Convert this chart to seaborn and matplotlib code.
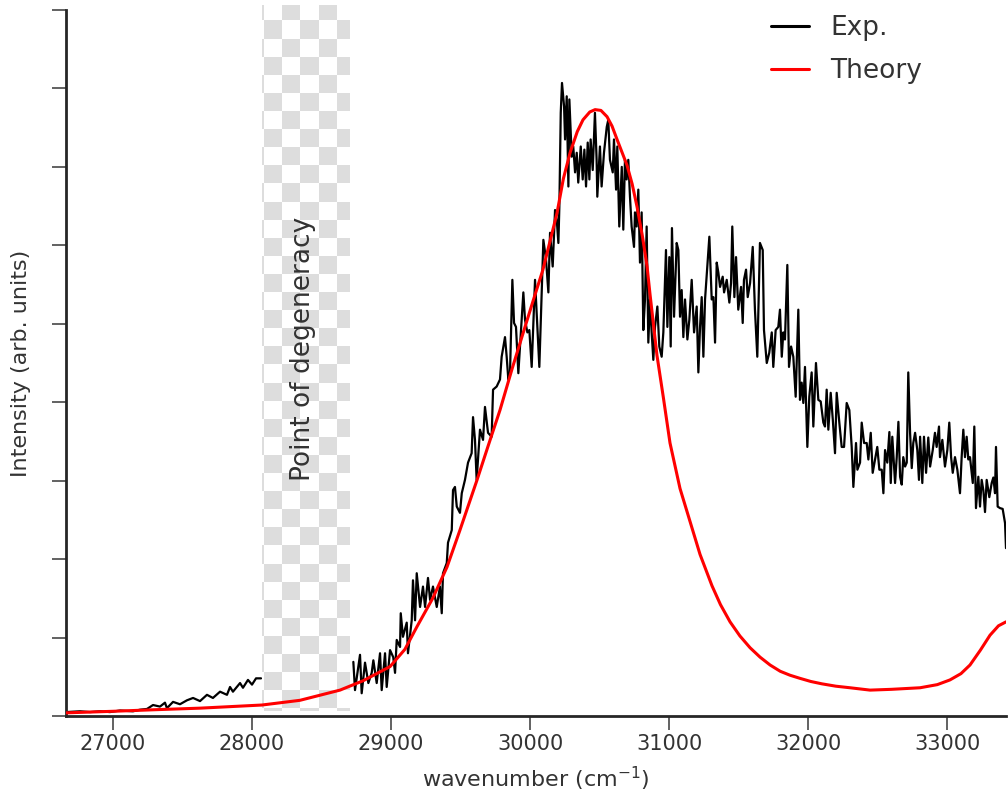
import numpy as np
import pandas as pd
import matplotlib
matplotlib.use("Agg")
import matplotlib.pyplot as plt
import seaborn as sns

# ---------------- data ----------------
exp_lo_wn = [26662, 26763, 26835, 26906, 26978, 27050, 27144, 27194, 27245, 27288,
             27338, 27374, 27388, 27432, 27482, 27532, 27576, 27626, 27676, 27719,
             27770, 27820, 27842, 27863, 27914, 27935, 27971, 28000, 28029, 28065]
exp_lo_int = [0.05, 0.06, 0.05, 0.06, 0.05, 0.07, 0.06, 0.08, 0.09, 0.14,
              0.12, 0.17, 0.10, 0.18, 0.15, 0.20, 0.23, 0.19, 0.27, 0.23,
              0.31, 0.27, 0.37, 0.31, 0.42, 0.36, 0.46, 0.40, 0.48, 0.48]

exp_hi_wn = [
    28729, 28741, 28777, 28789, 28813, 28837, 28861, 28873, 28897, 28921,
    28933, 28957, 28969, 28993, 29016, 29029, 29041, 29065, 29070, 29086,
    29113, 29122, 29149, 29158, 29173, 29185, 29209, 29230, 29245, 29266,
    29281, 29302, 29329, 29352, 29365, 29374, 29401, 29410, 29437, 29446,
    29460, 29473, 29496, 29509, 29532, 29554, 29580, 29590, 29604, 29616,
    29640, 29662, 29676, 29698, 29724, 29734, 29760, 29784,
    29796, 29820, 29832, 29844, 29856, 29873, 29885, 29899, 29916, 29952,
    29964, 29981, 29995, 30012, 30036, 30048, 30067, 30096, 30115, 30132,
    30144, 30163, 30180, 30192, 30204, 30211, 30221, 30230, 30245, 30252,
    30264, 30276, 30283, 30300, 30311, 30324, 30336, 30347, 30365, 30379,
    30391, 30403, 30415, 30427, 30436, 30451, 30467, 30479, 30484, 30503,
    30515, 30532, 30552, 30563, 30575, 30595, 30604, 30619, 30628, 30642,
    30660, 30671, 30683, 30695, 30707, 30719, 30731, 30748, 30755, 30767,
    30779, 30791, 30803,
    30815, 30827, 30839, 30851, 30863, 30875, 30887, 30899, 30916, 30930,
    30947, 30959, 30978, 30988, 31002, 31012, 31021, 31036, 31055, 31067,
    31079, 31091, 31103, 31115, 31132, 31146, 31163, 31180, 31199, 31211,
    31223, 31235, 31247, 31259, 31275, 31290, 31307, 31319, 31331, 31343,
    31355, 31367, 31386, 31396, 31415, 31434, 31446, 31455, 31470, 31482,
    31498, 31518, 31530, 31539, 31554, 31566, 31583, 31602, 31618, 31635,
    31654, 31674, 31683, 31703, 31721, 31739, 31750, 31767, 31786, 31798,
    31811, 31822, 31834, 31851, 31863, 31878, 31894, 31911, 31930, 31942,
    31954, 31966, 31978, 31995, 32009, 32026, 32038, 32057, 32074, 32091,
    32110, 32122, 32134, 32146, 32163, 32178, 32194, 32206, 32225, 32242,
    32259, 32278, 32297, 32314, 32326, 32345, 32355, 32374, 32386, 32403,
    32422, 32434, 32451, 32465, 32482, 32498, 32513,
    32530, 32542, 32554, 32570, 32585, 32595, 32606, 32626, 32638, 32650,
    32662, 32674, 32685, 32698, 32710, 32721, 32734, 32746, 32757, 32770,
    32786, 32798, 32806, 32822, 32834, 32849, 32865, 32878, 32897, 32913,
    32925, 32942, 32949, 32966, 32985, 33002, 33016, 33029, 33041, 33057,
    33074, 33093, 33105, 33117, 33129, 33141, 33153, 33165, 33185, 33196,
    33208, 33225, 33237, 33249, 33261, 33273, 33285, 33304, 33321, 33333,
    33345, 33352, 33364, 33381, 33400, 33417, 33424]
exp_hi_int = [
    0.69, 0.33, 0.78, 0.29, 0.68, 0.42, 0.55, 0.71, 0.42, 0.80,
    0.33, 0.80, 0.37, 0.84, 0.75, 0.55, 0.97, 0.88, 1.31, 1.01,
    1.19, 0.80, 1.22, 1.73, 1.22, 1.82, 1.39, 1.65, 1.39, 1.76,
    1.48, 1.65, 1.39, 1.65, 1.31, 1.82, 1.95, 2.21, 2.37, 2.88,
    2.92, 2.67, 2.59, 2.84, 3.01, 3.23, 3.35, 3.81, 3.52, 3.01,
    3.65, 3.52, 3.94, 3.61, 3.56, 4.16, 4.20, 4.29,
    4.58, 4.83, 4.58, 4.29, 4.37, 5.56, 5.01, 4.96, 4.37, 5.40,
    5.05, 4.89, 4.92, 4.45, 5.56, 5.14, 4.45, 6.07, 5.82, 5.40,
    6.16, 5.73, 6.45, 6.33, 6.03, 6.49, 7.69, 8.07, 7.77, 7.35,
    7.90, 6.75, 7.86, 7.13, 7.26, 6.93, 7.18, 6.80, 7.26, 6.84,
    7.22, 6.75, 7.31, 6.84, 7.35, 6.96, 7.69, 7.09, 6.62, 7.26,
    6.75, 7.18, 7.51, 7.60, 7.09, 6.93, 7.35, 6.71, 7.26, 6.24,
    7.00, 6.20, 7.09, 6.84, 7.09, 6.62, 6.24, 5.98, 6.42, 6.24,
    6.71, 5.78, 6.42,
    4.92, 5.31, 6.24, 4.76, 5.31, 4.89, 4.54, 4.96, 5.22, 4.71,
    4.58, 4.89, 5.94, 4.96, 5.85, 4.71, 6.22, 5.09, 6.03, 5.94,
    5.09, 5.43, 4.83, 5.31, 4.80, 5.05, 5.56, 4.89, 5.22, 4.38,
    4.96, 5.34, 4.58, 5.31, 5.73, 6.11, 5.31, 5.34, 4.76, 5.78,
    5.65, 5.47, 5.60, 5.40, 5.56, 5.27, 5.52, 6.24, 5.34, 5.85,
    5.18, 5.47, 5.01, 5.56, 5.69, 5.34, 5.52, 5.98, 5.18, 4.58,
    6.03, 5.94, 4.92, 4.50, 4.63, 4.89, 4.45, 4.92, 4.96, 5.18,
    4.58, 4.89, 4.80, 5.75, 4.45, 4.71, 4.58, 4.07, 5.18, 4.03,
    4.25, 3.99, 4.45, 3.43, 4.07, 4.38, 3.69, 4.50, 4.03, 4.01,
    3.74, 3.69, 4.16, 3.65, 4.12, 3.78, 3.35, 4.12, 3.74, 3.43,
    3.43, 3.99, 3.90, 3.43, 2.92, 3.48, 3.14, 3.23, 3.74, 3.48,
    3.48, 3.27, 3.61, 3.10, 3.27, 3.43, 3.14,
    3.14, 2.84, 3.39, 3.23, 3.62, 2.97, 3.56, 2.97, 3.30, 3.75,
    3.05, 2.95, 3.30, 3.18, 3.23, 4.38, 3.61, 3.16, 3.48, 3.61,
    3.39, 3.01, 3.56, 2.97, 3.56, 3.10, 3.55, 3.18, 3.39, 3.61,
    3.43, 3.69, 3.30, 3.52, 3.18, 3.39, 3.74, 3.30, 3.10, 3.30,
    3.14, 2.84, 3.30, 3.65, 3.30, 3.56, 3.27, 3.30, 2.97, 3.69,
    2.65, 3.05, 2.67, 3.01, 2.88, 2.60, 3.01, 2.79, 2.97, 3.04,
    2.84, 3.43, 2.67, 2.65, 2.64, 2.46, 2.14]

theory_wn = [26662, 27000, 27300, 27626, 28072, 28345, 28633, 28800, 28993, 29100,
             29187, 29300, 29403, 29496, 29619, 29700, 29784, 29870, 29950, 30020,
             30093, 30194, 30240, 30288, 30340, 30381, 30430, 30468, 30510, 30554,
             30590, 30626, 30698, 30735, 30770, 30810, 30842, 30863, 30913, 30960,
             31007, 31079, 31151, 31223, 31309, 31370, 31439, 31510, 31583, 31655,
             31727, 31800, 31870, 31942, 32020, 32100, 32200, 32302, 32446, 32600,
             32806, 32930, 33021, 33100, 33165, 33240, 33309, 33370, 33424]
theory_int = [0.04, 0.06, 0.08, 0.10, 0.14, 0.20, 0.33, 0.45, 0.63, 0.85,
              1.14, 1.50, 1.90, 2.37, 3.01, 3.45, 3.90, 4.42, 4.88, 5.28,
              5.69, 6.41, 6.85, 7.18, 7.45, 7.60, 7.70, 7.73, 7.72, 7.64,
              7.52, 7.35, 7.02, 6.78, 6.49, 6.10, 5.73, 5.38, 4.60, 4.05,
              3.48, 2.90, 2.48, 2.06, 1.66, 1.42, 1.20, 1.02, 0.87, 0.75,
              0.65, 0.57, 0.52, 0.48, 0.44, 0.41, 0.38, 0.36, 0.33, 0.34,
              0.36, 0.40, 0.46, 0.54, 0.65, 0.84, 1.03, 1.15, 1.20]

degeneracy_range = [28072, 28698]
x_ticks = [27000, 28000, 29000, 30000, 31000, 32000, 33000]
y_ticks = [0, 1, 2, 3, 4, 5, 6, 7, 8, 9]
x_limits = [26662, 33424]
y_limits = [0, 9]

# ---------------- style ----------------
sns.set_style("ticks")
TXT = "#333333"
plt.rcParams["font.family"] = ["DejaVu Sans"]
plt.rcParams["axes.edgecolor"] = "#262626"
plt.rcParams["text.color"] = TXT
plt.rcParams["axes.labelcolor"] = TXT
plt.rcParams["xtick.color"] = "#555555"
plt.rcParams["ytick.color"] = "#555555"
plt.rcParams["xtick.labelcolor"] = TXT

fig = plt.figure(figsize=(10.08, 7.96), dpi=100)
ax = fig.add_axes([66 / 1008, 80 / 796, 940 / 1008, 706 / 796])

df_lo = pd.DataFrame({"wavenumber": exp_lo_wn, "intensity": exp_lo_int})
df_hi = pd.DataFrame({"wavenumber": exp_hi_wn, "intensity": exp_hi_int})
df_th = pd.DataFrame({"wavenumber": theory_wn, "intensity": theory_int})

sns.lineplot(data=df_lo, x="wavenumber", y="intensity", ax=ax, color="black",
             lw=1.6, estimator=None, label="Exp.", zorder=2)
sns.lineplot(data=df_hi, x="wavenumber", y="intensity", ax=ax, color="black",
             lw=1.6, estimator=None, label="_nolegend_", zorder=2)

# checkerboard band ("point of degeneracy")
w_px, h_px = 87, 706
cols = (np.arange(w_px) + 16) // 18
rows = ((np.arange(h_px) + 3.1) // 18.1).astype(int)
pattern = ((rows[:, None] + cols[None, :]) % 2 == 0)
img = np.ones((h_px, w_px, 3))
img[pattern] = 221 / 255
top_val = y_limits[1] + 5 / 78.4
bot_val = 5 / 78.4
ax.imshow(img, extent=[degeneracy_range[0], degeneracy_range[1], bot_val, top_val],
          aspect="auto", interpolation="nearest", origin="upper", zorder=2.5,
          clip_on=False)

sns.lineplot(data=df_th, x="wavenumber", y="intensity", ax=ax, color="#ff0000",
             lw=2.2, estimator=None, label="Theory", zorder=3)

ax.text(sum(degeneracy_range) / 2 - 15, 3.0, "Point of degeneracy", rotation=90,
        ha="center", va="bottom", fontsize=19, color=TXT, zorder=4)

ax.set_xlim(*x_limits)
ax.set_ylim(*y_limits)
ax.set_xticks(x_ticks)
ax.set_yticks(y_ticks)
ax.set_yticklabels([])
ax.tick_params(axis="both", direction="out", length=10, width=1.3)
ax.tick_params(axis="x", labelsize=15, pad=3)
ax.set_xlabel("wavenumber (cm$^{-1}$)", fontsize=16, labelpad=8)
ax.set_ylabel("Intensity (arb. units)", fontsize=16, labelpad=12)
sns.despine(ax=ax)
for s in ["left", "bottom"]:
    ax.spines[s].set_linewidth(2.0)

leg = ax.legend(loc="upper right", bbox_to_anchor=(0.936, 1.026), frameon=False,
                fontsize=19, handlelength=1.45, handletextpad=0.8,
                labelspacing=0.62)
for h in leg.get_lines():
    h.set_linewidth(2.2)

fig.savefig("out.png", dpi=100)
